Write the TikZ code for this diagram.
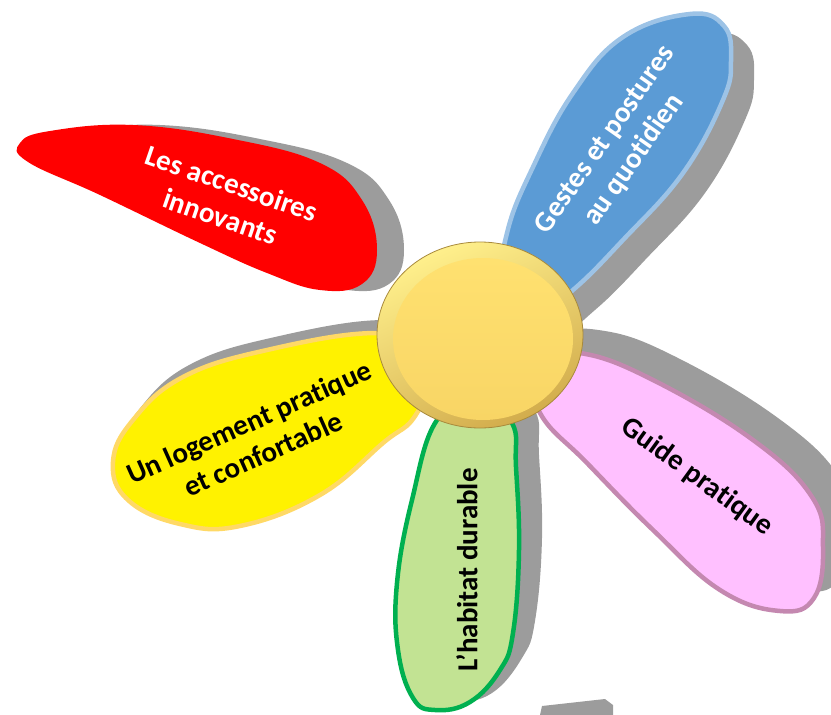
\documentclass[tikz,border=0pt]{standalone}
\usepackage{fontspec}
\setmainfont[Ligatures=NoCommon]{Carlito}
\usetikzlibrary{shapes.geometric}

\definecolor{shadowgray}{HTML}{9C9C9C}
\definecolor{bluefill}{HTML}{5B9BD5}
\definecolor{blueline}{HTML}{9DC3E6}
\definecolor{yellowline}{HTML}{FFD966}
\definecolor{greenfill}{HTML}{C2E393}
\definecolor{greenline}{HTML}{00B050}
\definecolor{pinkfill}{HTML}{FFC0FF}
\definecolor{pinkline}{HTML}{C488B0}
\definecolor{heartlight}{HTML}{FFF08C}
\definecolor{heartdark}{HTML}{D2AC4C}
\definecolor{heartrim}{HTML}{A88A3C}
\definecolor{heartfill}{HTML}{FFE170}
\definecolor{heartlow}{HTML}{F8D565}

\begin{document}
\begin{tikzpicture} [
            x=1pt, y=-1pt,
            petalshadow/.style = { fill=shadowgray },
            petal/.style       = { line width=4.5pt, line join=round },
            word/.style        = { font=\fontsize{29}{35}\selectfont\bfseries,
                                   align=center, inner sep=0pt },
          ]
          \useasboundingbox (0,0) rectangle (831,715);

          \fill [petalshadow, shift={(27,0)}] plot [smooth cycle, tension=0.7] coordinates
                {(20,143) (50,131) (133,125) (233,139) (320,163) (362,200) (377,250)
                 (362,284) (320,290) (267,273) (200,243) (100,195) (28,162)};
          \fill [petalshadow, shift={(22,20)}] plot [smooth cycle, tension=0.7] coordinates
                {(500,300) (507,233) (533,167) (573,93) (623,37) (690,13) (725,25)
                 (732,60) (723,100) (683,173) (623,240) (573,290) (530,320)};
          \fill [petalshadow, shift={(8,-13)}] plot [smooth cycle, tension=0.7] coordinates
                {(113,463) (133,420) (183,377) (267,350) (377,333) (440,350) (417,413)
                 (383,443) (320,495) (240,527) (180,525) (130,500)};
          \fill [petalshadow, shift={(22,-12)}] plot [smooth cycle, tension=0.7] coordinates
                {(437,420) (413,500) (397,583) (397,650) (413,700) (435,713) (470,705)
                 (500,670) (513,633) (520,550) (517,467) (513,423) (480,400)};
          \fill [petalshadow, shift={(25,-22)}] plot [smooth cycle, tension=0.7] coordinates
                {(530,360) (580,353) (653,380) (753,440) (813,497) (825,547) (815,600)
                 (780,613) (720,590) (653,530) (587,463) (540,413)};
          \fill [petalshadow] (540,715) -- (542,706) -- (605,699) -- (613,705) -- (613,715) -- cycle;

          \fill [red] plot [smooth cycle, tension=0.7] coordinates
                {(20,143) (50,131) (133,125) (233,139) (320,163) (362,200) (377,250)
                 (362,284) (320,290) (267,273) (200,243) (100,195) (28,162)};
          \draw [petal, draw=blueline, fill=bluefill] plot [smooth cycle, tension=0.7] coordinates
                {(500,300) (507,233) (533,167) (573,93) (623,37) (690,14) (724,26)
                 (731,60) (723,100) (683,173) (623,240) (573,290) (530,320)};
          \draw [petal, draw=yellowline, fill=yellow] plot [smooth cycle, tension=0.7] coordinates
                {(113,462) (133,420) (183,377) (267,350) (377,333) (440,350) (417,413)
                 (383,443) (320,495) (240,526) (180,524) (128,500)};
          \draw [petal, draw=greenline, fill=greenfill] plot [smooth cycle, tension=0.7] coordinates
                {(437,420) (412,500) (397,583) (398,650) (413,698) (435,710) (470,702)
                 (500,670) (513,633) (519,550) (516,467) (512,423) (480,400)};
          \draw [petal, draw=pinkline, fill=pinkfill] plot [smooth cycle, tension=0.7] coordinates
                {(530,360) (580,353) (653,380) (753,440) (812,497) (823,547) (814,598)
                 (780,611) (720,590) (653,530) (587,463) (540,413)};

          \node (heart) [ellipse, draw=heartrim, line width=0.8pt,
                         minimum width=206pt, minimum height=186pt, inner sep=0pt,
                         top color=heartlight, bottom color=heartdark,
                         shading angle=25] at (480,335) {};
          \node (heartcap) [ellipse, minimum width=180pt, minimum height=162pt, inner sep=0pt,
                            top color=heartfill, bottom color=heartlow] at (483,339) {};

          \node (access) [word, white, rotate=-19] at (226,200) {Les accessoires\\innovants};
          \node (gestes) [word, white, rotate=55] at (620,150) {Gestes et postures\\au quotidien};
          \node (logement) [word, rotate=24] at (256,438) {Un logement pratique\\et confortable};
          \node (habitat) [word, rotate=90] at (467,570) {L’habitat durable};
          \node (guide) [word, rotate=-36] at (697,477) {Guide pratique};
\end{tikzpicture}
\end{document}
